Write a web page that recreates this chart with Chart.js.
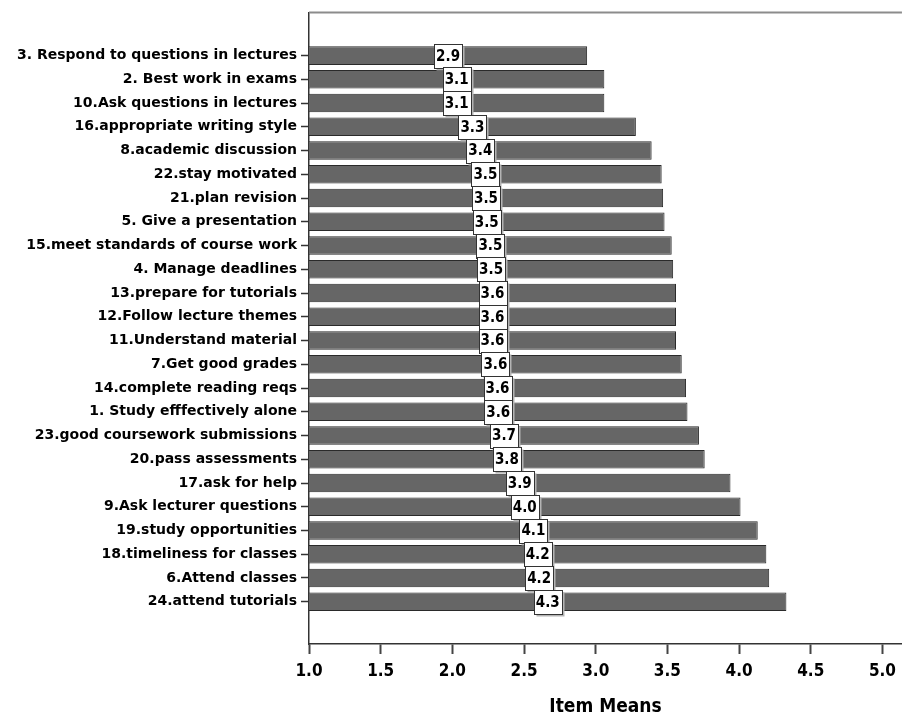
<!DOCTYPE html>
<html>
<head>
<meta charset="utf-8">
<script src="https://cdn.jsdelivr.net/npm/chart.js@4"></script>
<style>
body { margin: 0; background: #ffffff; }
#meansChart { display: block; }
</style>
</head>
<body>
<canvas id="meansChart" width="903" height="718"></canvas>
<script>
//Items, top to bottom
var itemLabels = [
    '3. Respond to questions in lectures',
    '2. Best work in exams',
    '10.Ask questions in lectures',
    '16.appropriate writing style',
    '8.academic discussion',
    '22.stay motivated',
    '21.plan revision',
    '5. Give a presentation',
    '15.meet standards of course work',
    '4. Manage deadlines',
    '13.prepare for tutorials',
    '12.Follow lecture themes',
    '11.Understand material',
    '7.Get good grades',
    '14.complete reading reqs',
    '1. Study efffectively alone',
    '23.good coursework submissions',
    '20.pass assessments',
    '17.ask for help',
    '9.Ask lecturer questions',
    '19.study opportunities',
    '18.timeliness for classes',
    '6.Attend classes',
    '24.attend tutorials'
];

//Mean per item
var itemMeans = [2.94, 3.06, 3.06, 3.28, 3.39, 3.46, 3.47, 3.48, 3.53, 3.54, 3.56, 3.56,
                 3.56, 3.60, 3.63, 3.64, 3.72, 3.76, 3.94, 4.01, 4.13, 4.19, 4.21, 4.33];

//Axis ticks
var xTicks = [1.0, 1.5, 2.0, 2.5, 3.0, 3.5, 4.0, 4.5, 5.0];
var axisTitle = 'Item Means';

var narrowFont = "'DejaVu Sans Condensed', 'Liberation Sans Narrow', sans-serif";
var plainFont = "'DejaVu Sans', sans-serif";

//points for a linear index axis
var points = itemMeans.map(function (v, i) { return { x: v, y: i }; });

//top frame line + value boxes in the middle of each bar
var boxPlugin = {
    id: 'boxPlugin',
    afterDatasetsDraw: function (chart) {
        var c = chart.ctx;
        var area = chart.chartArea;
        var xs = chart.scales.x;
        var ys = chart.scales.y;

        c.save();
        c.strokeStyle = '#8c8c8c';
        c.lineWidth = 2;
        c.beginPath();
        c.moveTo(area.left, area.top);
        c.lineTo(area.right, area.top);
        c.stroke();

        c.font = 'bold 15px ' + narrowFont;
        c.textAlign = 'center';
        c.textBaseline = 'middle';
        for (var i = 0; i < itemMeans.length; i++) {
            var mx = (xs.getPixelForValue(xTicks[0]) + xs.getPixelForValue(itemMeans[i])) / 2;
            var my = ys.getPixelForValue(i);
            var w = 28, h = 24;
            var bx = Math.round(mx - w / 2) + 0.5;
            var by = Math.round(my - h / 2) + 0.5;
            c.fillStyle = '#b4b4b4';
            c.fillRect(bx + 2, by + 2, w, h);
            c.fillStyle = '#ffffff';
            c.fillRect(bx, by, w, h);
            c.strokeStyle = '#333333';
            c.lineWidth = 1;
            c.strokeRect(bx, by, w, h);
            c.fillStyle = '#000000';
            c.fillText(itemMeans[i].toFixed(1), mx, my + 1);
        }
        c.restore();
    }
};

var ctx = document.getElementById('meansChart');
var myChart = new Chart(ctx, {
    type: 'bar',
    data: {
        datasets: [{
            label: axisTitle,
            data: points,
            backgroundColor: '#666666',
            borderColor: '#2a2a2a',
            borderWidth: 1,
            barPercentage: 0.78,
            categoryPercentage: 1
        }]
    },
    options: {
        indexAxis: 'y',
        responsive: false,
        animation: false,
        layout: { padding: { left: 0, right: 0, top: 12, bottom: 0 } },
        plugins: {
            legend: { display: false },
            tooltip: { enabled: false }
        },
        scales: {
            x: {
                type: 'linear',
                position: 'bottom',
                min: 1,
                max: 5.136,
                afterBuildTicks: function (scale) {
                    scale.ticks = xTicks.map(function (v) { return { value: v }; });
                },
                afterFit: function (scale) { scale.height = 74; },
                grid: { drawOnChartArea: false, tickLength: 10, tickColor: '#444444', tickWidth: 2 },
                border: { color: '#333333', width: 1.5 },
                ticks: {
                    color: '#000000',
                    padding: 7,
                    maxRotation: 0,
                    font: { family: narrowFont, size: 17, weight: 'bold' },
                    callback: function (v) { return Number(v).toFixed(1); }
                },
                title: {
                    display: true,
                    text: axisTitle,
                    color: '#000000',
                    padding: { top: 0, bottom: 0 },
                    font: { family: narrowFont, size: 19, weight: 'bold' }
                }
            },
            y: {
                type: 'linear',
                reverse: true,
                offset: false,
                min: -1.82,
                max: 24.78,
                afterBuildTicks: function (scale) {
                    scale.ticks = itemLabels.map(function (t, i) { return { value: i }; });
                },
                afterFit: function (scale) { scale.width = 309; },
                grid: { offset: false, drawOnChartArea: false, tickLength: 8, tickColor: '#333333', tickWidth: 1.5 },
                border: { color: '#333333', width: 1.5 },
                ticks: {
                    autoSkip: false,
                    color: '#000000',
                    padding: 4,
                    font: { family: plainFont, size: 14, weight: 'bold' },
                    callback: function (v) { return itemLabels[v]; }
                }
            }
        }
    },
    plugins: [boxPlugin]
});
</script>
</body>
</html>
